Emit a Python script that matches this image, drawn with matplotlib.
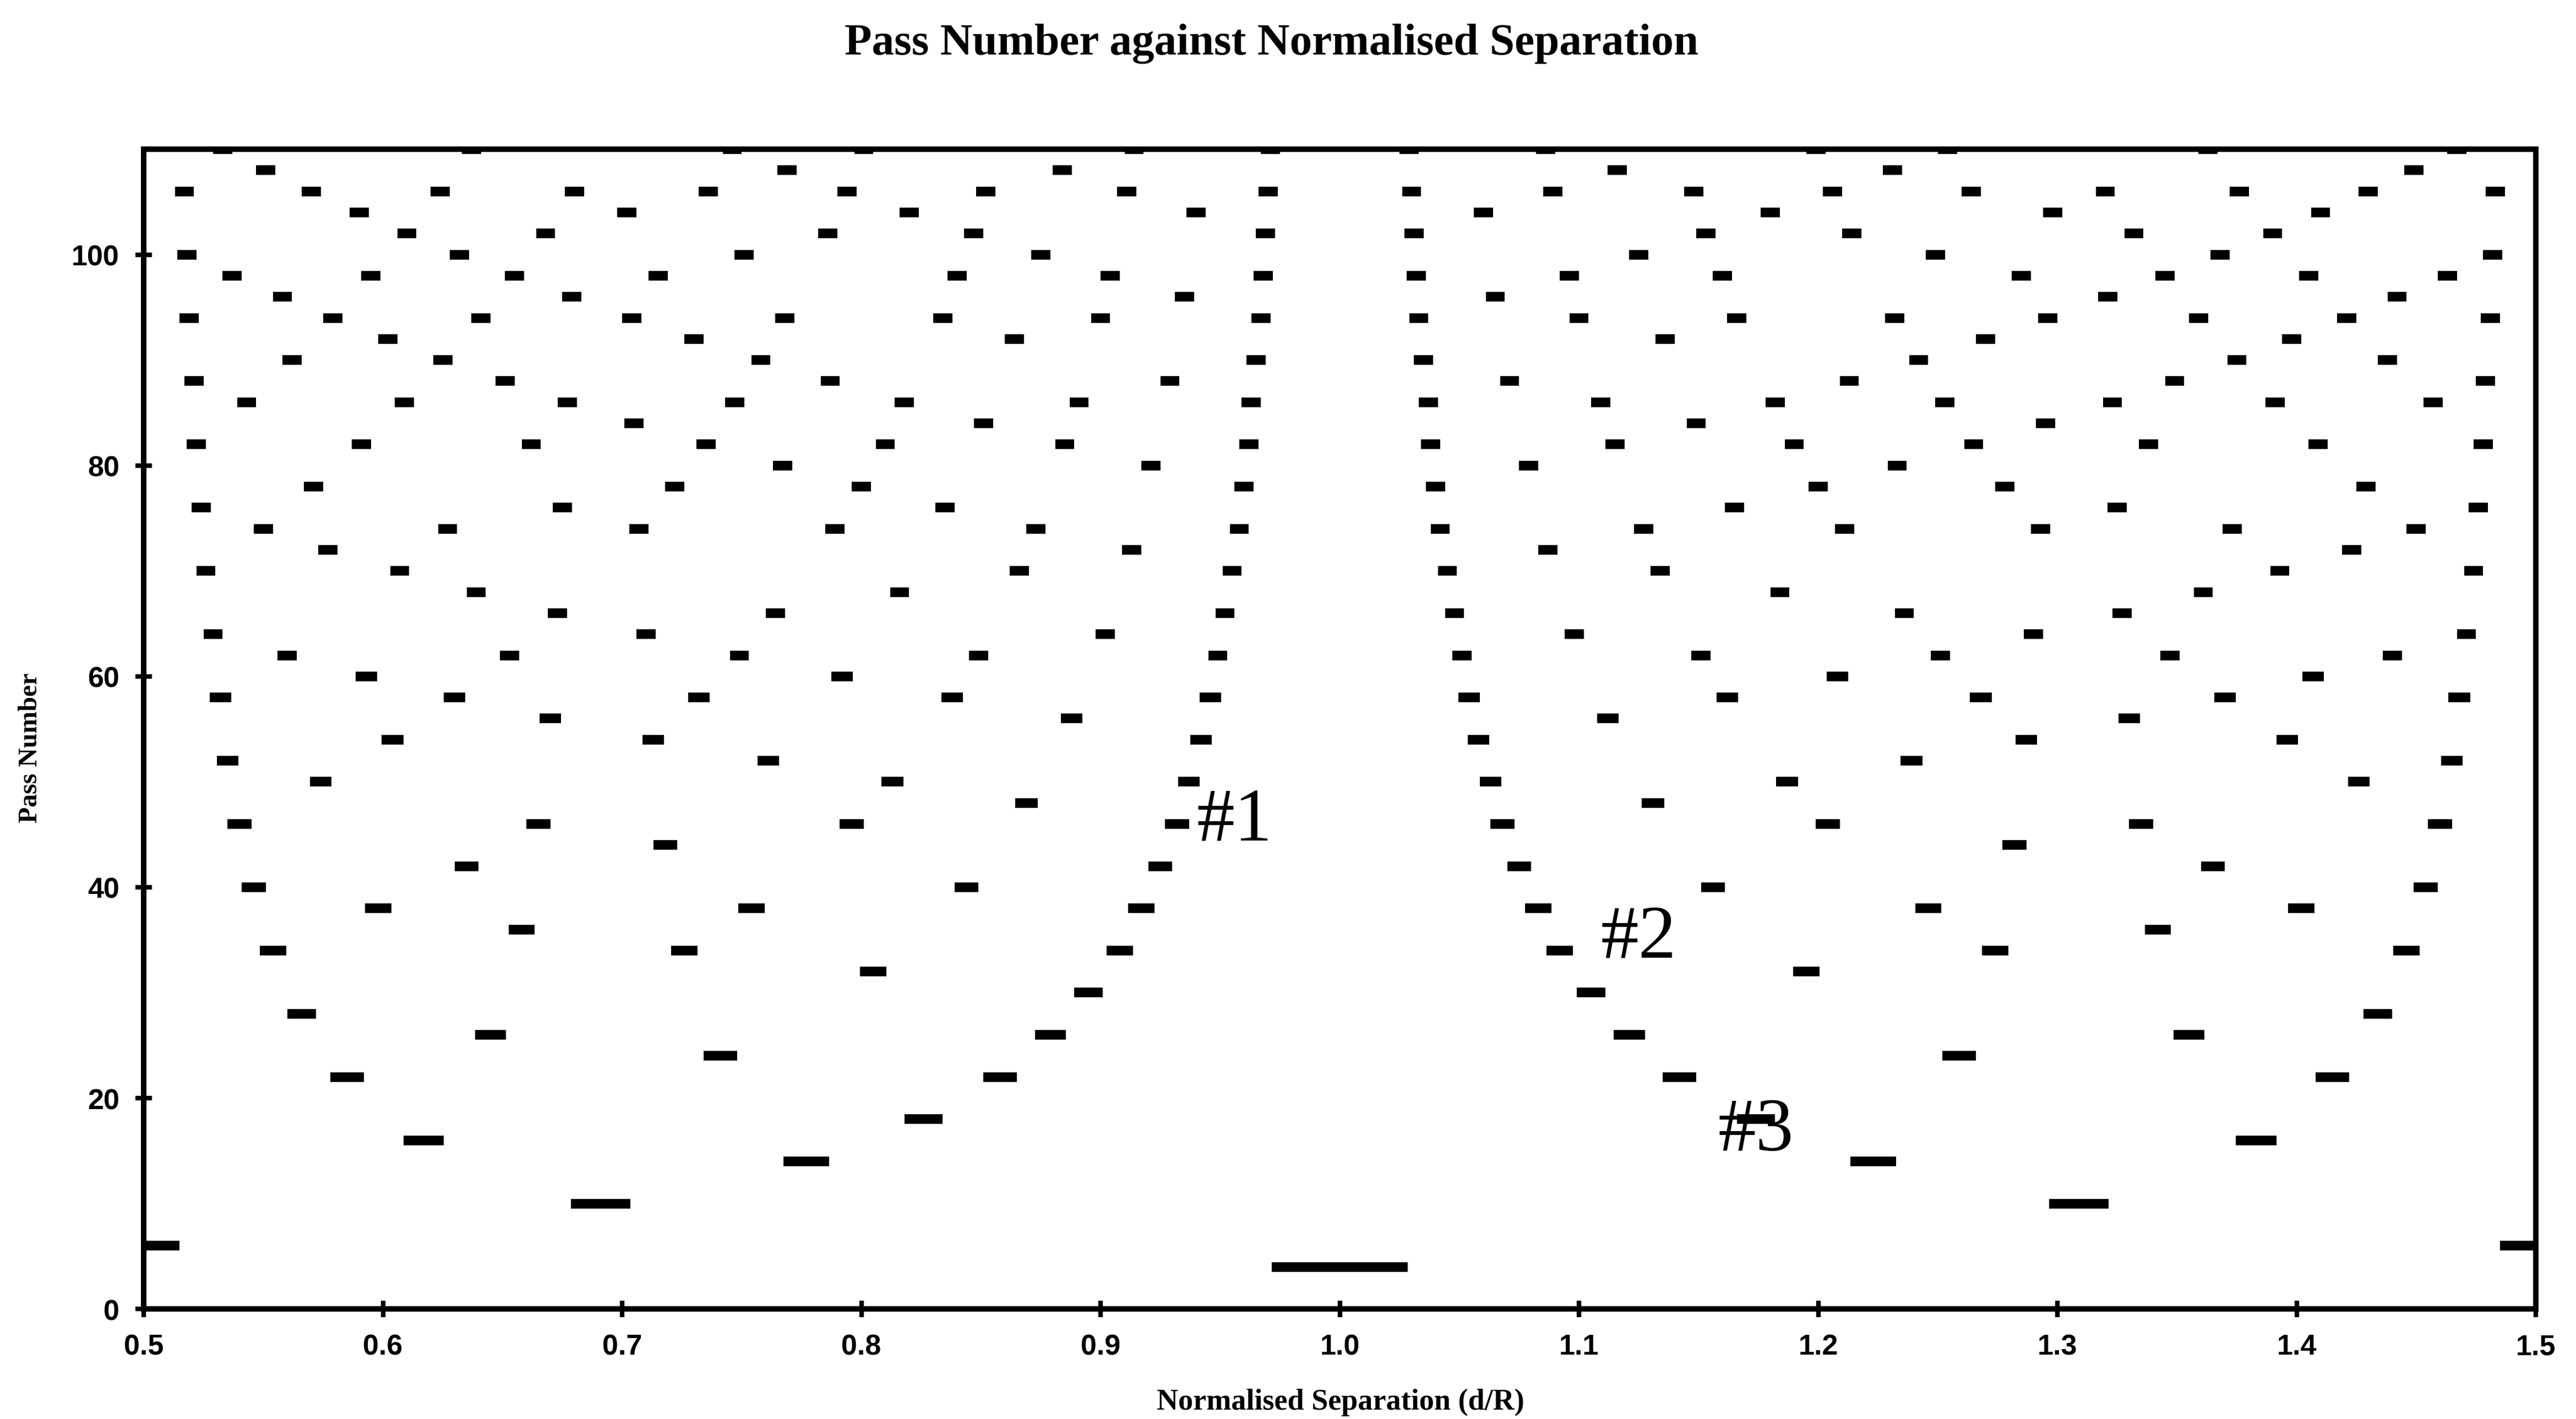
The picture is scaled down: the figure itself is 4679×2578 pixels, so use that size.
import matplotlib
matplotlib.use("Agg")
import matplotlib.pyplot as plt

# pass numbers that have at least one re-entrant separation
passes = [4, 6, 10, 14, 16, 18, 22, 24, 26, 28, 30, 32, 34, 36, 38, 40,
          42, 44, 46, 48, 50, 52, 54, 56, 58, 60, 62, 64, 66, 68, 70, 72,
          74, 76, 78, 80, 82, 84, 86, 88, 90, 92, 94, 96, 98, 100, 102,
          104, 106, 108, 110]

# normalised separation d/R at which each pass number occurs
separations = [
    [1.000],
    [0.500, 1.500],
    [0.691, 1.309],
    [0.777, 1.223],
    [0.617, 1.383],
    [0.826, 1.174],
    [0.585, 0.858, 1.142, 1.415],
    [0.741, 1.259],
    [0.645, 0.879, 1.121, 1.355],
    [0.566, 1.434],
    [0.895, 1.105],
    [0.805, 1.195],
    [0.554, 0.726, 0.908, 1.092, 1.274, 1.446],
    [0.658, 1.342],
    [0.598, 0.754, 0.917, 1.083, 1.246, 1.402],
    [0.546, 0.844, 1.156, 1.454],
    [0.635, 0.925, 1.075, 1.365],
    [0.718, 1.282],
    [0.540, 0.665, 0.796, 0.932, 1.068, 1.204, 1.335, 1.460],
    [0.869, 1.131],
    [0.574, 0.813, 0.937, 1.063, 1.187, 1.426],
    [0.535, 0.761, 1.239, 1.465],
    [0.604, 0.713, 0.942, 1.058, 1.287, 1.396],
    [0.670, 0.888, 1.112, 1.330],
    [0.532, 0.630, 0.732, 0.838, 0.946, 1.054, 1.162, 1.268, 1.370, 1.468],
    [0.593, 0.792, 1.208, 1.407],
    [0.560, 0.653, 0.749, 0.849, 0.949, 1.051, 1.151, 1.251, 1.347, 1.440],
    [0.529, 0.710, 0.902, 1.098, 1.290, 1.471],
    [0.673, 0.764, 0.952, 1.048, 1.236, 1.327],
    [0.639, 0.816, 1.184, 1.361],
    [0.526, 0.607, 0.866, 0.955, 1.045, 1.134, 1.393, 1.474],
    [0.577, 0.913, 1.087, 1.423],
    [0.550, 0.627, 0.707, 0.789, 0.873, 0.958, 1.042, 1.127, 1.211, 1.293,
     1.373, 1.450],
    [0.524, 0.675, 0.835, 1.165, 1.325, 1.476],
    [0.571, 0.722, 0.800, 0.960, 1.040, 1.200, 1.278, 1.429],
    [0.767, 0.921, 1.079, 1.233],
    [0.522, 0.591, 0.662, 0.735, 0.810, 0.885, 0.962, 1.038, 1.115, 1.190,
     1.265, 1.338, 1.409, 1.478],
    [0.705, 0.851, 1.149, 1.295],
    [0.543, 0.609, 0.677, 0.747, 0.818, 0.891, 0.963, 1.037, 1.109, 1.182,
     1.253, 1.323, 1.391, 1.457],
    [0.521, 0.651, 0.787, 0.929, 1.071, 1.213, 1.349, 1.479],
    [0.562, 0.625, 0.758, 0.965, 1.035, 1.242, 1.375, 1.438],
    [0.602, 0.730, 0.864, 1.136, 1.270, 1.398],
    [0.519, 0.579, 0.641, 0.704, 0.768, 0.834, 0.900, 0.967, 1.033, 1.100,
     1.166, 1.232, 1.296, 1.359, 1.421, 1.481],
    [0.558, 0.679, 0.935, 1.065, 1.321, 1.442],
    [0.537, 0.595, 0.655, 0.715, 0.840, 0.904, 0.968, 1.032, 1.096, 1.160,
     1.285, 1.345, 1.405, 1.463],
    [0.518, 0.632, 0.751, 0.875, 1.125, 1.249, 1.368, 1.482],
    [0.610, 0.668, 0.786, 0.847, 0.969, 1.031, 1.153, 1.214, 1.332, 1.390],
    [0.590, 0.702, 0.820, 0.940, 1.060, 1.180, 1.298, 1.410],
    [0.517, 0.570, 0.624, 0.680, 0.736, 0.794, 0.852, 0.911, 0.970, 1.030,
     1.089, 1.148, 1.206, 1.264, 1.320, 1.376, 1.430, 1.483],
    [0.551, 0.769, 0.884, 1.116, 1.231, 1.449],
    [0.533, 0.637, 0.746, 0.801, 0.914, 0.971, 1.029, 1.086, 1.199, 1.254,
     1.363, 1.467],
]

# spread of d/R covered by each pass (width of the dash)
dash_width = [0.057, 0.030, 0.025, 0.019, 0.017, 0.016, 0.014, 0.014,
              0.013, 0.012, 0.012, 0.011, 0.011, 0.011, 0.011, 0.010,
              0.010, 0.010, 0.010, 0.0095, 0.009, 0.009, 0.009, 0.009,
              0.009, 0.009, 0.008, 0.008, 0.008, 0.008, 0.008, 0.008,
              0.008, 0.008, 0.008, 0.008, 0.008, 0.008, 0.008, 0.008,
              0.008, 0.008, 0.008, 0.008, 0.008, 0.008, 0.008, 0.008,
              0.008, 0.008, 0.008]

x_ticks = [0.5, 0.6, 0.7, 0.8, 0.9, 1.0, 1.1, 1.2, 1.3, 1.4, 1.5]
x_ticklabels = ["0.5", "0.6", "0.7", "0.8", "0.9", "1.0", "1.1", "1.2",
                "1.3", "1.4", "1.5"]
y_ticks = [0, 20, 40, 60, 80, 100]

# curve labels: text, d/R, pass number (baseline)
curve_labels = ["#1", "#2", "#3"]
label_x = [0.956, 1.125, 1.174]
label_y = [44.5, 33.4, 15.1]

serif = ["Liberation Serif", "DejaVu Serif"]
sans = ["Liberation Sans", "DejaVu Sans"]

fig = plt.figure(figsize=(4679 / 300, 2579 / 300), dpi=300)
ax = fig.add_axes([0.0558, 0.0775, 0.9286, 0.8170])

ys, x0, x1 = [], [], []
for n, seps, w in zip(passes, separations, dash_width):
    for s in seps:
        ys.append(n)
        x0.append(s - w / 2)
        x1.append(s + w / 2)
ax.hlines(ys, x0, x1, colors="black", linewidth=4.2)

ax.set_xlim(0.5, 1.5)
ax.set_ylim(0, 110)
ax.set_xticks(x_ticks)
ax.set_xticklabels(x_ticklabels)
ax.set_yticks(y_ticks)
ax.tick_params(direction="inout", length=7.2, width=2, pad=7, labelsize=12.5)
for lab in ax.get_xticklabels() + ax.get_yticklabels():
    lab.set_family(sans)
    lab.set_fontweight("bold")
for sp in ax.spines.values():
    sp.set_linewidth(2.4)

for txt, lx, ly in zip(curve_labels, label_x, label_y):
    ax.text(lx, ly, txt, ha="center", va="baseline", fontsize=33,
            family=serif)

fig.text(0.4936, 0.969, "Pass Number against Normalised Separation",
         ha="center", va="center", fontsize=19.5, fontweight="bold",
         family=serif)
fig.text(0.5204, 0.012, "Normalised Separation (d/R)", ha="center",
         va="center", fontsize=13, fontweight="bold", family=serif)
fig.text(0.0118, 0.473, "Pass Number", ha="center", va="center",
         rotation=90, fontsize=11.5, fontweight="bold", family=serif)

fig.savefig("out.png", dpi=300, facecolor="white")
